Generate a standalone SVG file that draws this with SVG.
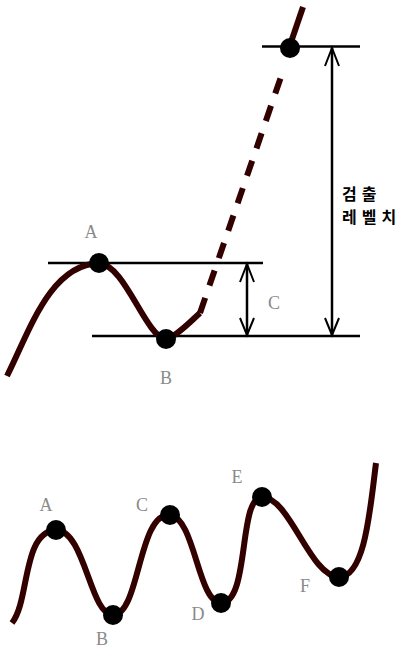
<svg xmlns="http://www.w3.org/2000/svg" width="411" height="652" viewBox="0 0 411 652">
<style>
.curve{fill:none;stroke:#330000;stroke-width:6;stroke-linecap:butt;stroke-linejoin:round}
.dash{fill:none;stroke:#330000;stroke-width:6;stroke-dasharray:16 13}
.ln{fill:none;stroke:#000;stroke-width:2.5}
.ah{fill:none;stroke:#000;stroke-width:2}
.dot{fill:#000}
.lbl{font-family:"Liberation Serif",serif;font-size:18px;fill:#8a8a8a;text-anchor:middle}
.kr{font-family:"Noto Sans CJK KR",sans-serif;font-size:16px;font-weight:bold;fill:#000;letter-spacing:5px}
</style>
<rect width="411" height="652" fill="#fff"/>
<g id="connectors">
  <line class="ln" x1="262" y1="46.5" x2="360" y2="46.5"/>
  <line class="ln" x1="48" y1="263" x2="263" y2="263"/>
  <line class="ln" x1="92" y1="336" x2="360" y2="336"/>
  <line class="ln" x1="247" y1="264" x2="247" y2="335"/>
  <path class="ah" d="M240,282 L247,264 L254,282 M240,318 L247,335 L254,318"/>
  <line class="ln" x1="332" y1="48" x2="332" y2="335"/>
  <path class="ah" d="M325,66 L332,48 L339,66 M325,318 L332,335 L339,318"/>
</g>
<g id="top-curve">
  <path class="curve" d="M7,376 C30,330 50,265 99,263 C125,265 145,335 166,340 C178,335 190,322 200,313"/>
  <path class="dash" d="M200,313 L284,68"/>
  <path class="curve" d="M289,48 L303,7"/>
</g>
<g id="node-top-A"><circle class="dot" cx="99" cy="263" r="10"/><text class="lbl" x="91" y="238">A</text></g>
<g id="node-top-B"><circle class="dot" cx="166" cy="339" r="10"/><text class="lbl" x="166" y="384">B</text></g>
<g id="node-top-peak"><circle class="dot" cx="290" cy="48" r="10"/></g>
<g id="label-C"><text class="lbl" x="274" y="309">C</text></g>
<g id="label-detect"><text class="kr" x="342" y="200">검출</text><text class="kr" x="342" y="223">레벨치</text></g>
<g id="bottom-curve">
  <path class="curve" d="M12,623 C30,600 22,532 56,530 C85,530 90,615 113,615 C140,615 138,512 170,515 C195,518 198,603 221,603 C250,603 238,497 262,497 C290,497 310,577 339,577 C365,577 370,510 376,463"/>
</g>
<g id="node-A"><circle class="dot" cx="56" cy="530" r="10"/><text class="lbl" x="46" y="511">A</text></g>
<g id="node-B"><circle class="dot" cx="113" cy="615" r="10"/><text class="lbl" x="102" y="645">B</text></g>
<g id="node-C"><circle class="dot" cx="170" cy="515" r="10"/><text class="lbl" x="142" y="511">C</text></g>
<g id="node-D"><circle class="dot" cx="221" cy="603" r="10"/><text class="lbl" x="198" y="620">D</text></g>
<g id="node-E"><circle class="dot" cx="262" cy="497" r="10"/><text class="lbl" x="237" y="483">E</text></g>
<g id="node-F"><circle class="dot" cx="339" cy="577" r="10"/><text class="lbl" x="305" y="592">F</text></g>
</svg>
